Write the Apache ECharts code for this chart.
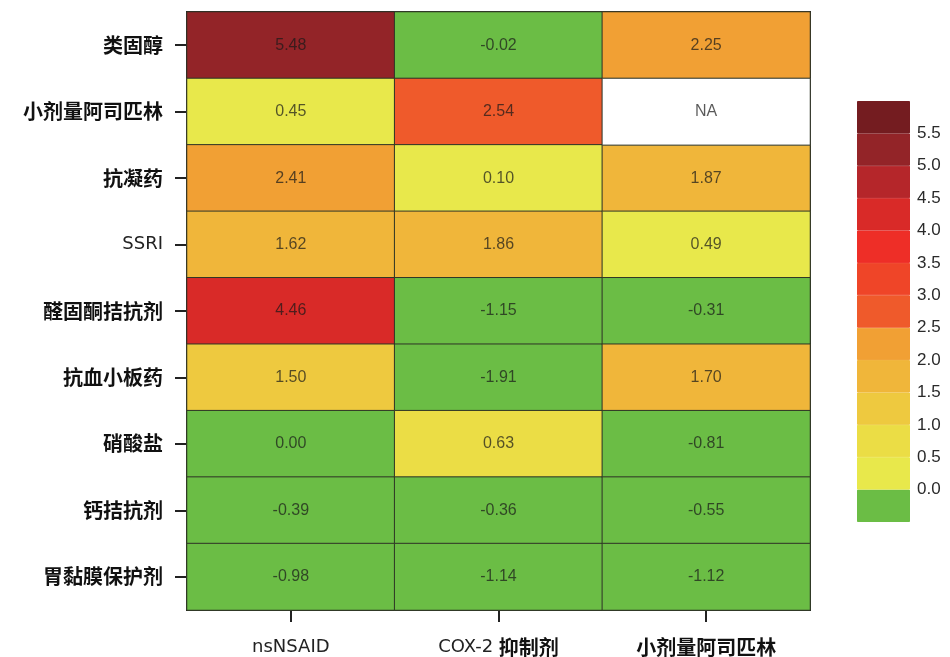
<!DOCTYPE html>
<html>
<head>
<meta charset="utf-8">
<script src="https://cdn.jsdelivr.net/npm/echarts@6/dist/echarts.min.js"></script>
<style>
  html, body { margin: 0; padding: 0; background: #ffffff; }
  #chart { width: 950px; height: 657px; }
</style>
</head>
<body>
<div id="chart"></div>
<script>
// Drug classes (rows, top to bottom) and comparison groups (columns)
const rowNames = ['类固醇', '小剂量阿司匹林', '抗凝药', 'SSRI', '醛固酮拮抗剂', '抗血小板药', '硝酸盐', '钙拮抗剂', '胃黏膜保护剂'];
const colNames = ['nsNSAID', 'COX-2 抑制剂', '小剂量阿司匹林'];

// One array per column, values listed top to bottom; null = NA
const nsNSAID = [5.48, 0.45, 2.41, 1.62, 4.46, 1.50, 0.00, -0.39, -0.98];
const cox2    = [-0.02, 2.54, 0.10, 1.86, -1.15, -1.91, 0.63, -0.36, -1.14];
const aspirin = [2.25, null, 1.87, 0.49, -0.31, 1.70, -0.81, -0.55, -1.12];
const columns = [nsNSAID, cox2, aspirin];

// Colour scale: green for <= 0, then one band per 0.5 step up to 6.0
const bandBreaks = [0, 0.5, 1.0, 1.5, 2.0, 2.5, 3.0, 3.5, 4.0, 4.5, 5.0, 5.5, 6.0];
const bandColors = ['#6bbd45', '#e8e84b', '#ebdd45', '#eec93f', '#f0b63a', '#f1a034',
                    '#ef5a2b', '#ef4528', '#ee2e27', '#d92a28', '#b5262a', '#932428', '#741c20'];
const legendLabels = [0, 0.5, 1.0, 1.5, 2.0, 2.5, 3.0, 3.5, 4.0, 4.5, 5.0, 5.5];

const cellData = [];
const naData = [];
columns.forEach((col, c) => {
  col.forEach((v, r) => {
    if (v === null) naData.push([c, r, 0]);
    else cellData.push([c, r, v]);
  });
});

const pieces = bandColors.map((color, i) =>
  i === 0 ? { lte: bandBreaks[0], color } : { gt: bandBreaks[i - 1], lte: bandBreaks[i], color });

const cjk = '"Noto Sans CJK SC", sans-serif';
const latin = '"DejaVu Sans", sans-serif';
const richLabel = {
  b: { fontFamily: cjk, fontWeight: 'bold', fontSize: 20, lineHeight: 26, color: '#111', verticalAlign: 'middle' },
  r: { fontFamily: latin, fontWeight: 'normal', fontSize: 18, lineHeight: 26, color: '#222', verticalAlign: 'middle' }
};
function mixLabel(text) {
  // Latin runs in a regular face, CJK runs in bold
  return text.replace(/([\u4e00-\u9fff]+)|([^\u4e00-\u9fff]+)/g,
    (m, han, lat) => han ? '{b|' + han + '}' : '{r|' + lat + '}');
}

// Legend bar: one stacked segment per colour band
const legendSeries = bandColors.map((color, i) => ({
  type: 'bar',
  xAxisIndex: 1,
  yAxisIndex: 1,
  stack: 'scale',
  barWidth: '100%',
  silent: true,
  itemStyle: { color, borderColor: color, borderWidth: 1 },
  data: [i === 0 ? -(bandBreaks[1] - bandBreaks[0]) : bandBreaks[i] - bandBreaks[i - 1]]
}));

const cellFont = '"Liberation Sans", Arial, sans-serif';
const chart = echarts.init(document.getElementById('chart'));
chart.setOption({
  backgroundColor: '#ffffff',
  animation: false,
  grid: [
    { left: 187, top: 12, width: 623, height: 598, show: true,
      backgroundColor: '#ffffff', borderColor: '#222', borderWidth: 2 },
    { left: 857, top: 101, width: 53, height: 421 }
  ],
  xAxis: [
    { type: 'category', data: colNames, gridIndex: 0, position: 'bottom',
      axisLine: { show: false },
      axisTick: { show: true, alignWithLabel: true, length: 12, lineStyle: { color: '#222', width: 2 } },
      axisLabel: { margin: 24, formatter: v => mixLabel(v), rich: richLabel },
      splitLine: { show: false } },
    { type: 'category', data: ['scale'], gridIndex: 1, show: false }
  ],
  yAxis: [
    { type: 'category', data: rowNames, gridIndex: 0, inverse: true,
      axisLine: { show: false },
      axisTick: { show: true, alignWithLabel: true, length: 12, lineStyle: { color: '#222', width: 2 } },
      axisLabel: { margin: 24, formatter: v => mixLabel(v), rich: richLabel },
      splitLine: { show: false } },
    { type: 'value', gridIndex: 1, position: 'right', min: -0.5, max: 6.0, interval: 0.5,
      axisLine: { show: false }, axisTick: { show: false }, splitLine: { show: false },
      axisLabel: { margin: 7, color: '#2a2a2a', fontSize: 17, fontFamily: cellFont,
        formatter: v => (legendLabels.some(t => Math.abs(t - v) < 1e-9) ? v.toFixed(1) : '') } }
  ],
  visualMap: {
    type: 'piecewise', show: false, seriesIndex: 0, dimension: 2, pieces
  },
  series: [
    { type: 'heatmap', xAxisIndex: 0, yAxisIndex: 0, data: cellData,
      itemStyle: { borderColor: '#2f3526', borderWidth: 1 },
      label: { show: true, formatter: p => p.value[2].toFixed(2),
        color: 'rgba(25,25,25,0.72)', fontSize: 16, fontFamily: cellFont },
      emphasis: { disabled: true } },
    { type: 'heatmap', xAxisIndex: 0, yAxisIndex: 0, data: naData,
      itemStyle: { color: '#ffffff', borderColor: '#2f3526', borderWidth: 1 },
      label: { show: true, formatter: 'NA',
        color: 'rgba(25,25,25,0.72)', fontSize: 16, fontFamily: cellFont },
      emphasis: { disabled: true } },
    ...legendSeries
  ]
});
</script>
</body>
</html>
